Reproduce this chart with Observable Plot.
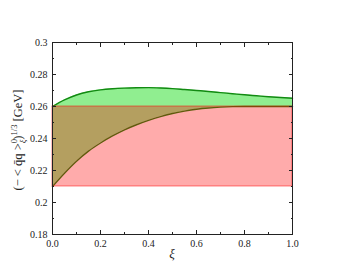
<!DOCTYPE html>
<html>
<head>
<meta charset="utf-8">
<script src="https://cdn.jsdelivr.net/npm/d3@7"></script>
<script src="https://cdn.jsdelivr.net/npm/@observablehq/plot@0.6"></script>
<style>
  html, body { margin: 0; padding: 0; background: #fff; }
  #chart svg { display: block; }
</style>
</head>
<body>
<div id="chart"></div>
<script>
// ξ sample points
const xi = [0, 0.05, 0.1, 0.15, 0.2, 0.25, 0.3, 0.35, 0.4, 0.45, 0.5, 0.55, 0.6, 0.65, 0.7, 0.75, 0.8, 0.85, 0.9, 0.95, 1.0];
// upper (green) curve
const upper = [0.2600, 0.2641, 0.2672, 0.2692, 0.2704, 0.2711, 0.2715, 0.2717, 0.2718, 0.2716, 0.2712, 0.2706, 0.2700, 0.2694, 0.2687, 0.2680, 0.2673, 0.2667, 0.2661, 0.2656, 0.2652];
// lower (green) curve
const lower = [0.2100, 0.2183, 0.2258, 0.2321, 0.2372, 0.2416, 0.2454, 0.2486, 0.2513, 0.2537, 0.2556, 0.2571, 0.2583, 0.2591, 0.2596, 0.2599, 0.2600, 0.2600, 0.2600, 0.2600, 0.2600];
// red constant band
const bandXi = [0, 1];
const bandLo = [0.21, 0.21];
const bandHi = [0.26, 0.26];

const xTicks = [0, 0.2, 0.4, 0.6, 0.8, 1.0];
const xTickLabels = ["0.0", "0.2", "0.4", "0.6", "0.8", "1.0"];
const xMinor = [0.1, 0.3, 0.5, 0.7, 0.9];
const yTicks = [0.18, 0.2, 0.22, 0.24, 0.26, 0.28, 0.3];
const yTickLabels = ["0.18", "0.2", "0.22", "0.24", "0.26", "0.28", "0.3"];
const yMinor = [0.19, 0.21, 0.23, 0.25, 0.27, 0.29];

const green = xi.map((x, i) => ({xi: x, lo: lower[i], hi: upper[i]}));
const band = bandXi.map((x, i) => ({xi: x, lo: bandLo[i], hi: bandHi[i]}));

const font = "'Liberation Serif', 'DejaVu Serif', serif";
const blank = () => "";

const plot = Plot.plot({
  width: 345,
  height: 277,
  marginLeft: 52,
  marginRight: 53,
  marginTop: 42,
  marginBottom: 43,
  style: {fontFamily: font, fontSize: "10px", color: "#222", background: "#fff"},
  x: {domain: [0, 1]},
  y: {domain: [0.18, 0.3]},
  marks: [
    Plot.areaY(green, {x: "xi", y1: "lo", y2: "hi", fill: "rgb(144,238,144)", curve: "monotone-x"}),
    Plot.lineY(green, {x: "xi", y: "hi", stroke: "#128a12", strokeWidth: 1.4, curve: "monotone-x"}),
    Plot.lineY(green, {x: "xi", y: "lo", stroke: "#128a12", strokeWidth: 1.4, curve: "monotone-x"}),
    Plot.areaY(band, {x: "xi", y1: "lo", y2: "hi", fill: "red", fillOpacity: 0.33, stroke: "red", strokeOpacity: 0.33, strokeWidth: 1.5}),
    Plot.frame({stroke: "#222", strokeWidth: 1}),
    Plot.axisX({anchor: "bottom", ticks: xTicks, tickSize: -4, tickPadding: 9, label: null,
      tickFormat: d => xTickLabels[xTicks.indexOf(d)]}),
    Plot.axisX({anchor: "bottom", ticks: xMinor, tickSize: -2, tickFormat: blank, label: null}),
    Plot.axisX({anchor: "top", ticks: xTicks, tickSize: -4, tickFormat: blank, label: null}),
    Plot.axisX({anchor: "top", ticks: xMinor, tickSize: -2, tickFormat: blank, label: null}),
    Plot.axisY({anchor: "left", ticks: yTicks, tickSize: -4, tickPadding: 9, label: null,
      tickFormat: d => yTickLabels[yTicks.indexOf(d)]}),
    Plot.axisY({anchor: "left", ticks: yMinor, tickSize: -2, tickFormat: blank, label: null}),
    Plot.axisY({anchor: "right", ticks: yTicks, tickSize: -4, tickFormat: blank, label: null}),
    Plot.axisY({anchor: "right", ticks: yMinor, tickSize: -2, tickFormat: blank, label: null})
  ]
});

const svg = d3.select(plot);
// x label
svg.append("text")
  .attr("x", 172).attr("y", 258)
  .attr("text-anchor", "middle")
  .attr("font-family", font).attr("font-size", 13).attr("font-style", "italic")
  .attr("fill", "#222")
  .text("ξ");
// y label
const yl = svg.append("text")
  .attr("transform", "translate(22,140) rotate(-90)")
  .attr("text-anchor", "middle")
  .attr("font-family", font).attr("font-size", 12.5)
  .attr("fill", "#222");
yl.append("tspan").text("(− < q̄q >");
yl.append("tspan").attr("font-size", 8.5).attr("dy", -5).text("0");
yl.append("tspan").attr("font-size", 8.5).attr("font-style", "italic").attr("dx", -4.2).attr("dy", 8.5).text("ξ");
yl.append("tspan").attr("dy", -3.5).text(")");
yl.append("tspan").attr("font-size", 8.5).attr("dy", -5).text("1/3");
yl.append("tspan").attr("dy", 5).text(" [GeV]");

document.getElementById("chart").appendChild(plot);
</script>
</body>
</html>
